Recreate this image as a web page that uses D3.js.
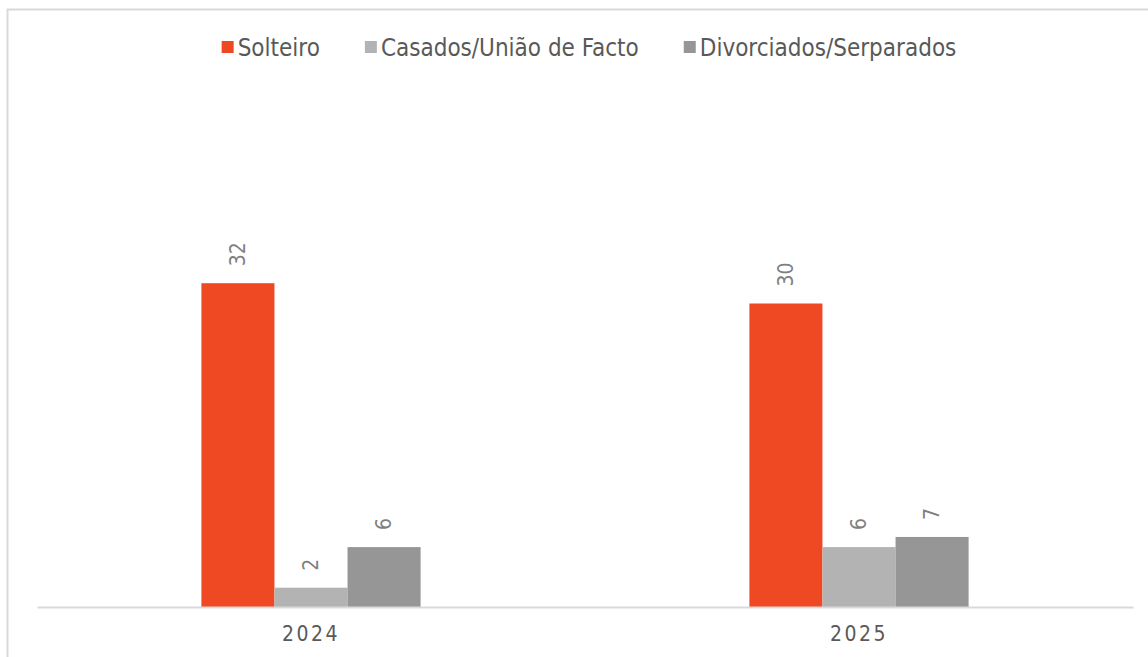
<!DOCTYPE html>
<html>
<head>
<meta charset="utf-8">
<script src="https://cdn.jsdelivr.net/npm/d3@7"></script>
<style>
  html, body { margin: 0; padding: 0; background: #fff; }
  svg { display: block; font-family: "DejaVu Sans Condensed", "DejaVu Sans", sans-serif; }
</style>
</head>
<body>
<svg id="chart" width="1148" height="657"></svg>
<script>
// chart data
const years = ["2024", "2025"];
const seriesNames = ["Solteiro", "Casados/União de Facto", "Divorciados/Serparados"];
const seriesValues = [
    [32, 30],   // Solteiro
    [2, 6],     // Casados/União de Facto
    [6, 7]      // Divorciados/Serparados
];
const seriesColors = ["#EF4923", "#B3B3B3", "#969696"];

const W = 1148, H = 657;
const plot = { left: 37, right: 1133, top: 202, bottom: 608 };

const svg = d3.select("#chart");

// outer frame (only top and left edges are visible in the picture)
svg.append("path")
    .attr("d", `M7.5,657 L7.5,9.5 L${W},9.5`)
    .attr("fill", "none")
    .attr("stroke", "#D9D9D9")
    .attr("stroke-width", 2);

const x0 = d3.scaleBand()
    .domain(years)
    .range([plot.left, plot.right])
    .paddingInner(0.6)
    .paddingOuter(0.3);

const x1 = d3.scaleBand()
    .domain(seriesNames)
    .range([0, x0.bandwidth()]);

const y = d3.scaleLinear()
    .domain([0, 40])
    .range([plot.bottom, plot.top]);

const rows = [];
seriesNames.forEach((name, si) => {
    years.forEach((yr, yi) => {
        rows.push({ series: name, year: yr, value: seriesValues[si][yi], color: seriesColors[si] });
    });
});

svg.append("g").attr("class", "bars")
    .selectAll("rect")
    .data(rows)
    .join("rect")
        .attr("x", d => x0(d.year) + x1(d.series))
        .attr("y", d => y(d.value))
        .attr("width", x1.bandwidth())
        .attr("height", d => y(0) - y(d.value))
        .attr("fill", d => d.color);

// value labels, rotated
svg.append("g").attr("class", "labels")
    .selectAll("text")
    .data(rows)
    .join("text")
        .attr("transform", d => `translate(${x0(d.year) + x1(d.series) + x1.bandwidth() / 2},${y(d.value) - 17}) rotate(-90)`)
        .attr("dy", "0.35em")
        .attr("text-anchor", "start")
        .attr("fill", "#7F7F7F")
        .style("font-size", "21px")
        .text(d => d.value);

// category axis
const xAxis = svg.append("g")
    .attr("transform", `translate(0,${plot.bottom - 1})`)
    .call(d3.axisBottom(x0).tickSize(0).tickPadding(19));
xAxis.select(".domain")
    .attr("stroke", "#D9D9D9")
    .attr("stroke-width", 2);
xAxis.selectAll("text")
    .attr("fill", "#595959")
    .style("font-family", "\"DejaVu Sans Condensed\", sans-serif")
    .style("font-size", "21px")
    .style("letter-spacing", "2.5px");

// legend
const legend = svg.append("g").attr("class", "legend");
const items = legend.selectAll("g")
    .data(seriesNames)
    .join("g");
items.append("rect")
    .attr("width", 12)
    .attr("height", 12)
    .attr("y", -12)
    .attr("fill", (d, i) => seriesColors[i]);
items.append("text")
    .attr("x", 16)
    .attr("y", 0)
    .attr("dy", "0.12em")
    .attr("fill", "#595959")
    .style("font-size", "24px")
    .text(d => d);

const gap = 45;
let widths = [];
items.each(function() { widths.push(this.getBBox().width); });
const total = d3.sum(widths) + gap * (widths.length - 1);
let cx = 589 - total / 2;
items.attr("transform", (d, i) => {
    const t = `translate(${cx},53)`;
    cx += widths[i] + gap;
    return t;
});
</script>
</body>
</html>
